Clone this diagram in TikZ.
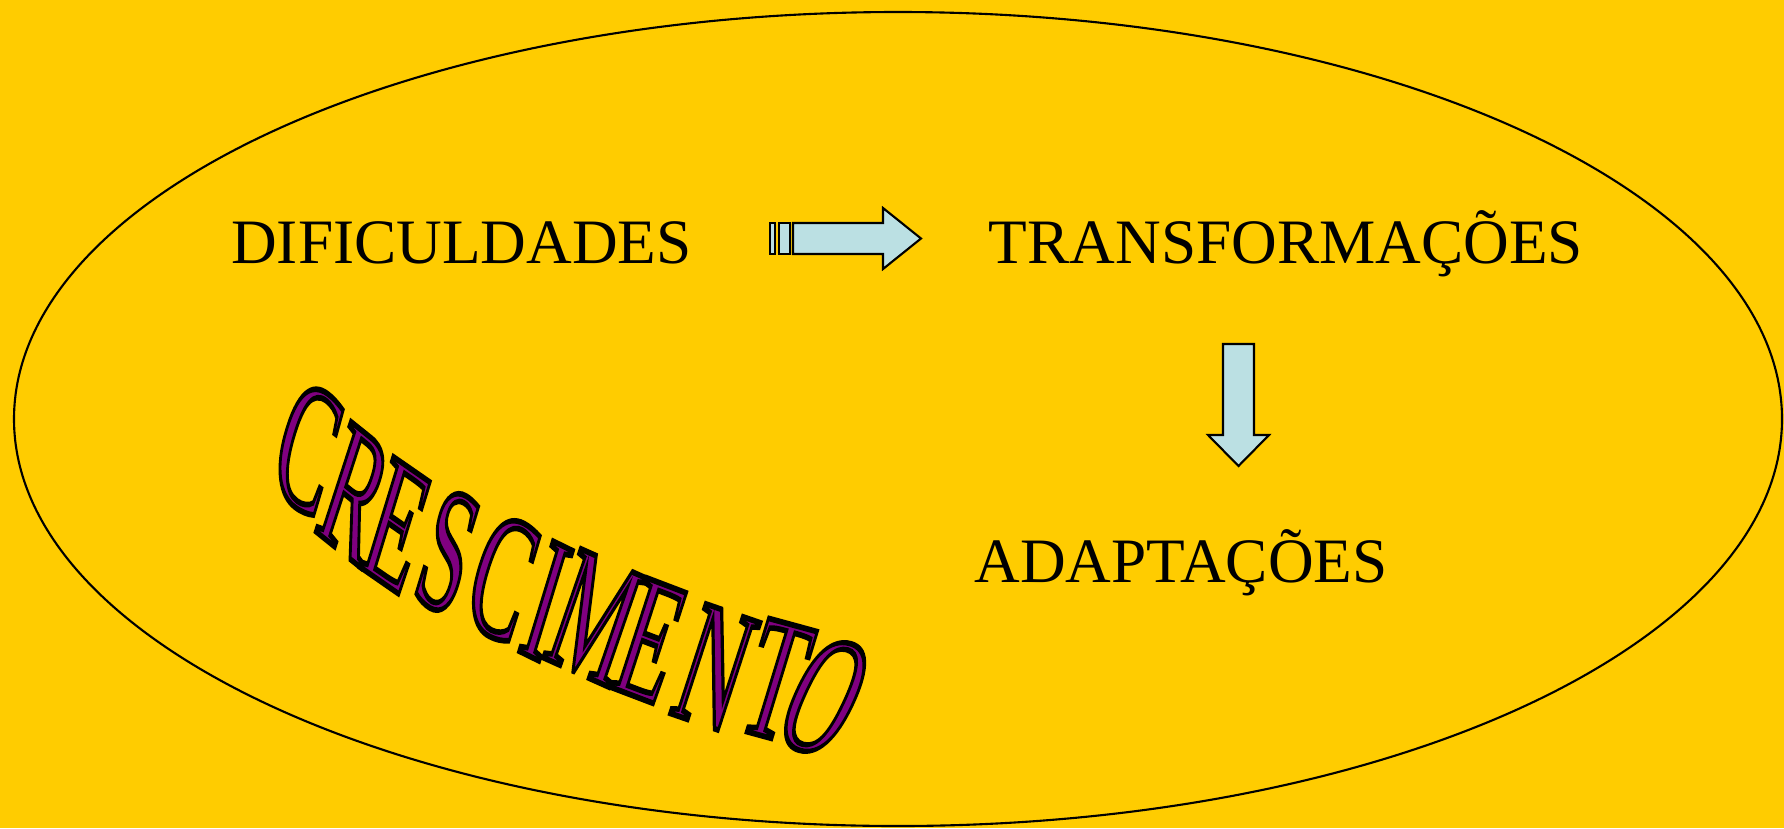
\documentclass[tikz,border=0pt]{standalone}
\usepackage{fontspec}
\setmainfont{Liberation Serif}

\definecolor{bgyellow}{HTML}{FFCC00}
\definecolor{arrowblue}{HTML}{BBE0E3}
\definecolor{wapurple}{HTML}{800080}

% outlined letter: purple fill, black stroke
\newcommand{\outlined}[1]{\textcolor{wapurple}{\special{pdf:literal direct 2 Tr 0.8 w 0 0 0 RG}#1\special{pdf:literal direct 0 Tr}}}

\tikzset{
	label/.style={font=\fontsize{18}{18}\selectfont, inner sep=0pt, anchor=base},
	blockarrow/.style={draw, fill=arrowblue, line width=0.6pt, line join=miter},
	wordart/.style={font=\fontsize{25}{25}\selectfont, inner sep=0pt}
}

\begin{document}
\begin{tikzpicture}
		\useasboundingbox (0,0) rectangle (17.84,-8.28);
		\fill[bgyellow] (0,0) rectangle (17.84,-8.28);
		\draw[line width=0.6pt] (8.98,-4.19) ellipse (8.84 and 4.07);

		\node[label] (dif) at (4.615,-2.63) {DIFICULDADES};
		\node[label] (trans) at (12.86,-2.63) {TRANSFORMAÇÕES};
		\node[label] (adapt) at (11.81,-5.82) {ADAPTAÇÕES};

		% arrow between dif and trans
		\draw[blockarrow] (7.70,-2.23) rectangle (7.75,-2.54);
		\draw[blockarrow] (7.79,-2.23) rectangle (7.90,-2.54);
		\draw[blockarrow] (7.93,-2.23) -- (8.83,-2.23) -- (8.83,-2.08) -- (9.21,-2.385)
			-- (8.83,-2.69) -- (8.83,-2.54) -- (7.93,-2.54) -- cycle;

		% arrow between trans and adapt
		\draw[blockarrow] (12.23,-3.44) -- (12.54,-3.44) -- (12.54,-4.35) -- (12.69,-4.35)
			-- (12.385,-4.66) -- (12.08,-4.35) -- (12.23,-4.35) -- cycle;

		% CRESCIMENTO
		\foreach \ch/\x/\y/\a/\s [count=\i] in {C/3.08/4.48/-16/-0.38, R/3.55/4.94/-18/-0.38,
				E/3.97/5.26/-17/-0.32, S/4.48/5.52/-17/-0.23, C/5.03/5.78/-17/-0.19,
				I/5.46/6.01/-17/-0.16, M/5.95/6.18/-19/-0.09, E/6.51/6.41/-18/-0.05,
				N/7.15/6.68/-18/-0.02, T/7.76/6.80/-17/0.03, O/8.25/6.97/-25/0.18}
			\node[wordart, rotate=\a, yslant=\s, yscale=2.0] (wa-\i) at (\x,-\y) {\outlined{\ch}};
	\end{tikzpicture}
\end{document}
